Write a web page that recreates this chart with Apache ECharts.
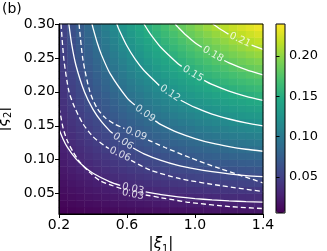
<!DOCTYPE html>
<html><head><meta charset="utf-8">
<script src="https://cdn.jsdelivr.net/npm/echarts@6/dist/echarts.min.js"></script>
<style>html,body{margin:0;padding:0;background:#fff}#c{width:327px;height:251px}</style>
</head><body><div id="c"></div>
<script>
// cell centres of the colour map
const xCenters = [0.225,0.275,0.325,0.375,0.425,0.475,0.525,0.575,0.625,0.675,0.725,0.775,0.825,0.875,0.925,0.975,1.025,1.075,1.125,1.175,1.225,1.275,1.325,1.375];
const yCenters = [0.025,0.035,0.045,0.055,0.065,0.075,0.085,0.095,0.105,0.115,0.125,0.135,0.145,0.155,0.165,0.175,0.185,0.195,0.205,0.215,0.225,0.235,0.245,0.255,0.265,0.275,0.285,0.295];
// estimated map values, one column per x centre, bottom to top
const zCols = [
[.0066,.0092,.0117,.0141,.0164,.0187,.0209,.0230,.0251,.0271,.0291,.0310,.0328,.0345,.0362,.0378,.0394,.0408,.0423,.0436,.0449,.0461,.0473,.0484,.0494,.0503,.0512,.0521],
[.0076,.0105,.0133,.0161,.0188,.0215,.0241,.0266,.0291,.0314,.0338,.0360,.0382,.0403,.0424,.0444,.0463,.0482,.0500,.0517,.0534,.0550,.0565,.0580,.0594,.0607,.0620,.0632],
[.0085,.0118,.0150,.0181,.0212,.0242,.0272,.0301,.0329,.0357,.0384,.0410,.0435,.0460,.0485,.0508,.0531,.0554,.0575,.0596,.0617,.0637,.0656,.0674,.0692,.0709,.0726,.0741],
[.0094,.0130,.0166,.0201,.0235,.0269,.0302,.0335,.0367,.0398,.0428,.0458,.0487,.0516,.0544,.0572,.0598,.0624,.0650,.0674,.0698,.0722,.0745,.0767,.0788,.0809,.0829,.0849],
[.0102,.0142,.0181,.0220,.0258,.0295,.0332,.0368,.0403,.0438,.0472,.0505,.0538,.0570,.0602,.0633,.0663,.0692,.0721,.0750,.0778,.0805,.0831,.0857,.0882,.0906,.0931,.0954],
[.0111,.0154,.0196,.0238,.0280,.0320,.0360,.0400,.0438,.0477,.0514,.0551,.0587,.0623,.0658,.0692,.0726,.0759,.0792,.0824,.0855,.0885,.0916,.0945,.0974,.1002,.1029,.1056],
[.0119,.0165,.0211,.0256,.0300,.0344,.0388,.0430,.0472,.0514,.0555,.0595,.0635,.0674,.0712,.0750,.0787,.0823,.0860,.0895,.0930,.0964,.0997,.1030,.1062,.1094,.1125,.1156],
[.0126,.0176,.0225,.0273,.0320,.0368,.0414,.0460,.0505,.0550,.0594,.0637,.0680,.0722,.0764,.0805,.0846,.0886,.0925,.0964,.1002,.1039,.1076,.1113,.1148,.1184,.1218,.1252],
[.0134,.0186,.0238,.0289,.0340,.0390,.0439,.0488,.0537,.0584,.0632,.0678,.0724,.0770,.0814,.0859,.0902,.0946,.0988,.1030,.1072,.1112,.1153,.1192,.1231,.1270,.1308,.1345],
[.0140,.0196,.0250,.0304,.0358,.0411,.0463,.0515,.0567,.0617,.0668,.0717,.0766,.0815,.0863,.0910,.0957,.1003,.1049,.1094,.1139,.1183,.1226,.1269,.1312,.1354,.1395,.1436],
[.0147,.0205,.0262,.0319,.0375,.0431,.0486,.0541,.0595,.0649,.0702,.0754,.0806,.0858,.0909,.0959,.1009,.1058,.1107,.1155,.1203,.1250,.1297,.1343,.1389,.1434,.1478,.1522],
[.0153,.0214,.0274,.0333,.0392,.0450,.0508,.0565,.0622,.0679,.0734,.0790,.0844,.0899,.0953,.1006,.1059,.1111,.1163,.1214,.1265,.1315,.1365,.1414,.1463,.1511,.1559,.1606],
[.0159,.0222,.0284,.0346,.0407,.0468,.0529,.0589,.0648,.0707,.0765,.0823,.0881,.0938,.0994,.1050,.1106,.1161,.1216,.1270,.1323,.1377,.1429,.1482,.1533,.1585,.1635,.1686],
[.0165,.0230,.0294,.0358,.0422,.0485,.0548,.0610,.0672,.0733,.0794,.0855,.0915,.0974,.1034,.1092,.1151,.1208,.1266,.1323,.1379,.1435,.1491,.1546,.1601,.1655,.1708,.1762],
[.0170,.0237,.0303,.0370,.0436,.0501,.0566,.0631,.0695,.0758,.0822,.0885,.0947,.1009,.1071,.1132,.1193,.1253,.1313,.1373,.1432,.1491,.1549,.1607,.1664,.1722,.1778,.1834],
[.0174,.0243,.0312,.0380,.0448,.0516,.0583,.0649,.0716,.0782,.0847,.0912,.0977,.1042,.1106,.1169,.1233,.1296,.1358,.1420,.1482,.1543,.1604,.1665,.1725,.1785,.1844,.1903],
[.0179,.0249,.0320,.0390,.0460,.0529,.0598,.0667,.0736,.0804,.0871,.0939,.1006,.1072,.1139,.1205,.1270,.1336,.1401,.1465,.1529,.1593,.1657,.1720,.1783,.1845,.1907,.1969],
[.0183,.0255,.0327,.0399,.0471,.0542,.0613,.0684,.0754,.0824,.0894,.0963,.1032,.1101,.1170,.1238,.1306,.1373,.1440,.1507,.1574,.1640,.1706,.1772,.1837,.1902,.1967,.2032],
[.0186,.0260,.0334,.0407,.0481,.0554,.0626,.0699,.0771,.0843,.0914,.0986,.1057,.1128,.1198,.1268,.1338,.1408,.1478,.1547,.1616,.1684,.1753,.1821,.1889,.1956,.2024,.2091],
[.0189,.0265,.0340,.0415,.0490,.0564,.0638,.0713,.0786,.0860,.0933,.1006,.1079,.1152,.1224,.1297,.1369,.1441,.1512,.1583,.1655,.1726,.1796,.1867,.1937,.2007,.2077,.2146],
[.0192,.0269,.0346,.0422,.0498,.0574,.0650,.0725,.0801,.0876,.0951,.1026,.1100,.1175,.1249,.1323,.1397,.1471,.1545,.1618,.1691,.1764,.1837,.1910,.1983,.2055,.2127,.2199],
[.0195,.0273,.0350,.0428,.0505,.0583,.0660,.0737,.0814,.0890,.0967,.1043,.1120,.1196,.1272,.1348,.1424,.1499,.1575,.1650,.1726,.1801,.1876,.1951,.2026,.2100,.2175,.2249],
[.0197,.0276,.0355,.0433,.0512,.0590,.0669,.0747,.0825,.0903,.0981,.1059,.1137,.1215,.1292,.1370,.1448,.1525,.1602,.1680,.1757,.1834,.1911,.1988,.2065,.2142,.2219,.2295],
[.0199,.0279,.0358,.0438,.0518,.0597,.0677,.0756,.0836,.0915,.0995,.1074,.1153,.1232,.1312,.1391,.1470,.1549,.1628,.1707,.1787,.1866,.1945,.2024,.2103,.2182,.2261,.2340]
];
const xTicks = [0.2, 0.6, 1.0, 1.4];
const yTicks = [0.05, 0.10, 0.15, 0.20, 0.25, 0.30];
const cbTicks = [0.05, 0.10, 0.15, 0.20];
const cbRange = [0.0054, 0.2397];

// contour lines: [segment before label, segment after label]
const solid003 = [[[0.2,0.145],[0.225,0.1299],[0.25,0.1183],[0.3,0.1013],[0.35,0.0892],[0.4,0.0801],[0.5,0.0673],[0.56,0.0622]],
                  [[0.71,0.0525],[0.8,0.0485],[0.9,0.0452],[1.0,0.0427],[1.1,0.0408],[1.2,0.0393],[1.3,0.0383],[1.4,0.0375]]];
const solid006 = [[[0.258,0.3],[0.275,0.2695],[0.3,0.2388],[0.35,0.1997],[0.4,0.1742],[0.45,0.156],[0.5,0.1421],[0.516,0.1389]],
                  [[0.636,0.1173],[0.7,0.1087],[0.8,0.099],[0.9,0.0916],[1.0,0.0865],[1.1,0.0824],[1.2,0.0792],[1.3,0.0767],[1.4,0.075]]];
const solid009 = [[[0.394,0.3],[0.4,0.2943],[0.425,0.2723],[0.45,0.2545],[0.5,0.2272],[0.6,0.1911],[0.646,0.1805]],
                  [[0.766,0.1572],[0.8,0.1517],[0.9,0.1399],[1.0,0.1312],[1.1,0.1243],[1.2,0.1193],[1.3,0.1154],[1.4,0.1125]]];
const solid012 = [[[0.54,0.3],[0.55,0.2935],[0.6,0.2675],[0.65,0.2474],[0.7,0.2314],[0.79,0.2095]],
                  [[0.916,0.1877],[1.0,0.177],[1.1,0.1672],[1.2,0.16],[1.3,0.1543],[1.4,0.15]]];
const solid015 = [[[0.7,0.3],[0.725,0.2899],[0.75,0.281],[0.8,0.2653],[0.9,0.2414],[0.922,0.2376]],
                  [[1.054,0.2169],[1.1,0.2109],[1.2,0.2011],[1.3,0.1934],[1.4,0.1875]]];
const solid018 = [[[0.883,0.3],[0.9,0.2954],[0.95,0.283],[1.0,0.2725],[1.04,0.2657]],
                  [[1.172,0.2462],[1.2,0.2426],[1.3,0.2327],[1.4,0.225]]];
const solid021 = [[[1.105,0.3],[1.15,0.2923],[1.197,0.2851]],
                  [[1.333,0.2689],[1.4,0.2625]]];
const dashed003 = [[[0.2,0.1765],[0.212,0.162],[0.224,0.147],[0.247,0.129],[0.282,0.112],[0.324,0.096],[0.382,0.081],[0.441,0.069],[0.512,0.062],[0.566,0.0575]],
                   [[0.71,0.048],[0.8,0.044],[0.971,0.037],[1.206,0.031],[1.4,0.028]]];
const dashed006 = [[[0.212,0.3],[0.229,0.247],[0.259,0.2],[0.294,0.176],[0.341,0.153],[0.4,0.134],[0.465,0.121],[0.494,0.1165]],
                   [[0.624,0.099],[0.735,0.085],[0.912,0.072],[1.147,0.062],[1.4,0.053]]];
const dashed009 = [[[0.318,0.3],[0.341,0.247],[0.382,0.2],[0.424,0.176],[0.471,0.162],[0.524,0.153],[0.585,0.146]],
                   [[0.724,0.129],[0.824,0.118],[0.971,0.103],[1.147,0.087],[1.4,0.066]]];

const labelText = ['0.21','0.18','0.15','0.12','0.09','0.06','0.03','0.09','0.06','0.03'];
const labelPos = [[1.265,0.2766],[1.106,0.2555],[0.988,0.2265],[0.853,0.198],[0.706,0.168],[0.576,0.127],[0.635,0.057],[0.653,0.138],[0.559,0.108],[0.635,0.0488]];
const labelAngle = [-25,-30,-31,-34,-35,-34,-14,-22,-25,-12];

const F = 'DejaVu Sans';
const viridis = ['#440154','#482475','#414487','#355f8d','#2a788e','#21918c','#22a884','#44bf70','#7ad151','#bddf26','#fde725'];

const heatData = [];
zCols.forEach((col, i) => col.forEach((v, j) => heatData.push([i, j, v])));

const series = [{
  type: 'heatmap', xAxisIndex: 0, yAxisIndex: 0, data: heatData, silent: true, z: 1,
  itemStyle: { borderWidth: 0 }
}];
function addContour(segs, dashed) {
  segs.forEach(seg => series.push({
    type: 'line', xAxisIndex: 1, yAxisIndex: 1, data: seg, showSymbol: false, symbol: 'none',
    smooth: 0.25, silent: true, z: 5,
    lineStyle: { color: '#ffffff', width: 1.3, type: dashed ? [5, 3] : 'solid' }
  }));
}
[solid003, solid006, solid009, solid012, solid015, solid018, solid021].forEach(s => addContour(s, false));
[dashed003, dashed006, dashed009].forEach(s => addContour(s, true));
series.push({
  type: 'scatter', xAxisIndex: 1, yAxisIndex: 1, symbolSize: 0, silent: true, z: 6,
  data: labelPos.map((p, k) => ({
    value: p,
    label: { show: true, position: 'inside', formatter: labelText[k], rotate: labelAngle[k],
             color: '#ffffff', fontSize: 10, fontFamily: F }
  }))
});

const nameRich = {
  b: { fontSize: 15, lineHeight: 20, verticalAlign: 'middle', fontFamily: F, color: '#000' },
  i: { fontSize: 15, lineHeight: 20, verticalAlign: 'middle', fontStyle: 'italic', fontFamily: F, color: '#000' },
  s: { fontSize: 10, lineHeight: 12, verticalAlign: 'bottom', fontFamily: F, color: '#000' }
};

const chart = echarts.init(document.getElementById('c'), null, { renderer: 'canvas', width: 327, height: 251 });
chart.setOption({
  animation: false,
  backgroundColor: '#ffffff',
  textStyle: { fontFamily: F },
  grid: [
    { left: 59, top: 24, width: 204, height: 190, outerBoundsMode: 'none', containLabel: false },
    { left: 59, top: 24, width: 204, height: 190, outerBoundsMode: 'none', containLabel: false, show: true, borderColor: '#000', borderWidth: 1, backgroundColor: 'transparent', z: 10 },
    { left: 276, top: 24, width: 9, height: 189, outerBoundsMode: 'none', containLabel: false, show: true, borderColor: '#000', borderWidth: 1, backgroundColor: 'transparent', z: 10 }
  ],
  xAxis: [
    { gridIndex: 0, type: 'category', data: xCenters, show: false },
    { gridIndex: 1, type: 'value', min: 0.2, max: 1.4, z: 10,
      splitLine: { show: false },
      axisLine: { onZero: false, lineStyle: { color: '#000', width: 1 } },
      axisTick: { length: 4, customValues: xTicks, lineStyle: { color: '#000' } },
      axisLabel: { customValues: xTicks, formatter: v => v.toFixed(1), color: '#000', fontSize: 14, margin: 4, fontFamily: F },
      name: '{b||}{i|ξ}{s|1}{b||}', nameLocation: 'middle', nameGap: 19,
      nameTextStyle: { rich: nameRich } },
    { gridIndex: 2, type: 'value', show: false }
  ],
  yAxis: [
    { gridIndex: 0, type: 'category', data: yCenters, show: false },
    { gridIndex: 1, type: 'value', min: 0.02, max: 0.30, z: 10,
      splitLine: { show: false },
      axisLine: { onZero: false, lineStyle: { color: '#000', width: 1 } },
      axisTick: { length: 4, customValues: yTicks, lineStyle: { color: '#000' } },
      axisLabel: { customValues: yTicks, formatter: v => v.toFixed(2), color: '#000', fontSize: 14, margin: 4, fontFamily: F },
      name: '{b||}{i|ξ}{s|2}{b||}', nameLocation: 'middle', nameGap: 36, nameRotate: 90,
      nameTextStyle: { rich: nameRich } },
    { gridIndex: 2, type: 'value', position: 'right', min: cbRange[0], max: cbRange[1], z: 10,
      splitLine: { show: false },
      axisLine: { show: false },
      axisTick: { show: true, length: 3.5, customValues: cbTicks, lineStyle: { color: '#000' } },
      axisLabel: { customValues: cbTicks, formatter: v => v.toFixed(2), color: '#000', fontSize: 13, margin: 4, fontFamily: F } }
  ],
  visualMap: {
    type: 'continuous', min: cbRange[0], max: cbRange[1], seriesIndex: 0, calculable: false,
    show: true, left: 276, top: 24, itemWidth: 9, itemHeight: 189, padding: 0,
    inRange: { color: viridis }, hoverLink: false
  },
  graphic: [{ type: 'text', left: 2, top: 2, style: { text: '(b)', font: '14px DejaVu Sans', fill: '#000' } }],
  series: series
});
</script>
</body></html>
